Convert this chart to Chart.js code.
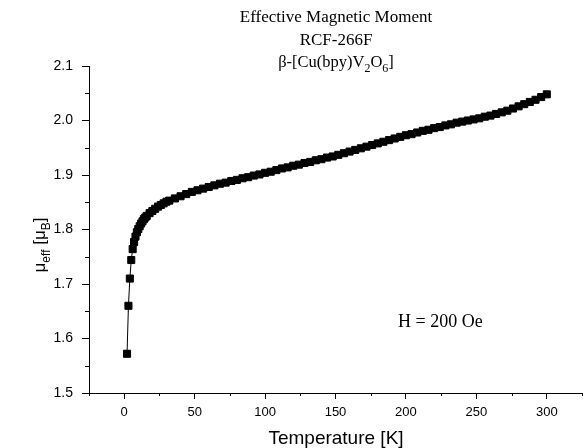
<!DOCTYPE html>
<html><head><meta charset="utf-8">
<script src="https://cdn.jsdelivr.net/npm/chart.js@4/dist/chart.umd.min.js"></script>
<style>html,body{margin:0;padding:0;background:#fff;}canvas{display:block;}</style>
</head><body>
<canvas id="c" width="583" height="448"></canvas>
<script>
const temperatures = [2,3,4,5,6,7,8,9,10,11,12,13,14,15,16,18,20,22,24,26,28,30,32,36,40,44,48,52,56,60,64,68,72,76,80,84,88,92,96,100,104,108,112,116,120,124,128,132,136,140,144,148,152,156,160,164,168,172,176,180,184,188,192,196,200,204,208,212,216,220,224,228,232,236,240,244,248,252,256,260,264,268,272,276,280,284,288,292,296,300];
const muEff = [1.572,1.660,1.710,1.744,1.764,1.777,1.787,1.795,1.801,1.806,1.811,1.815,1.819,1.822,1.825,1.830,1.834,1.838,1.842,1.845,1.848,1.851,1.853,1.857,1.861,1.865,1.869,1.872,1.875,1.878,1.881,1.884,1.886,1.889,1.891,1.894,1.896,1.899,1.901,1.904,1.906,1.909,1.912,1.914,1.917,1.919,1.922,1.924,1.927,1.929,1.932,1.934,1.937,1.940,1.943,1.946,1.949,1.952,1.955,1.958,1.961,1.964,1.967,1.970,1.973,1.975,1.978,1.981,1.983,1.986,1.988,1.991,1.993,1.996,1.998,2.000,2.002,2.004,2.007,2.009,2.012,2.015,2.018,2.022,2.026,2.030,2.034,2.038,2.043,2.048];
const xTicks = [0,50,100,150,200,250,300];
const yTicks = [1.5,1.6,1.7,1.8,1.9,2.0,2.1];
const xMinorTicks = [-25,25,75,125,175,225,275,325];
const yMinorTicks = [1.55,1.65,1.75,1.85,1.95,2.05];
const titleLine1 = "Effective Magnetic Moment";
const titleLine2 = "RCF-266F";
const fieldLabel = "H = 200 Oe";
const xAxisTitle = "Temperature [K]";

const SERIF = '"Liberation Serif", "Times New Roman", serif';
const SANS = '"Liberation Sans", Arial, sans-serif';

function drawRich(ctx, parts, x, y, size, family, align) {
  const subSize = Math.round(size * 0.7);
  let widths = parts.map(p => { ctx.font = (p[1] ? subSize : size) + 'px ' + family; return ctx.measureText(p[0]).width; });
  const total = widths.reduce((a, b) => a + b, 0);
  let cx = align === 'center' ? x - total / 2 : x;
  ctx.textAlign = 'left';
  ctx.textBaseline = 'alphabetic';
  parts.forEach((p, i) => {
    ctx.font = (p[1] ? subSize : size) + 'px ' + family;
    ctx.fillText(p[0], cx, p[1] ? y + size * 0.28 : y);
    cx += widths[i];
  });
}

const annot = {
  id: 'annot',
  afterDraw(chart) {
    const ctx = chart.ctx;
    const xs = chart.scales.x, ys = chart.scales.y;
    const ca = chart.chartArea;
    ctx.save();
    ctx.strokeStyle = '#000';
    ctx.lineWidth = 1;
    ctx.beginPath();
    xMinorTicks.forEach(v => { const px = Math.round(xs.getPixelForValue(v)) + 0.5; ctx.moveTo(px, ca.bottom); ctx.lineTo(px, ca.bottom + 3); });
    yMinorTicks.forEach(v => { const py = Math.round(ys.getPixelForValue(v)) + 0.5; ctx.moveTo(ca.left, py); ctx.lineTo(ca.left - 4, py); });
    ctx.stroke();

    ctx.fillStyle = '#000';
    ctx.textAlign = 'center';
    ctx.textBaseline = 'alphabetic';
    ctx.font = '17px ' + SERIF;
    ctx.fillText(titleLine1, 336, 22);
    ctx.fillText(titleLine2, 336, 45);
    drawRich(ctx, [["\u03B2-[Cu(bpy)V", false], ["2", true], ["O", false], ["6", true], ["]", false]], 336, 67, 16.5, SERIF, 'center');

    ctx.textAlign = 'left';
    ctx.font = '18px ' + SERIF;
    ctx.fillText(fieldLabel, 398, 327);

    ctx.textAlign = 'center';
    ctx.font = '19px ' + SANS;
    ctx.fillText(xAxisTitle, 336, 444);

    ctx.translate(45, 245);
    ctx.rotate(-Math.PI / 2);
    drawRich(ctx, [["\u03BC", false], ["eff", true], [" [\u03BC", false], ["B", true], ["]", false]], 0, 0, 17, SANS, 'center');
    ctx.restore();
  }
};

const points = temperatures.map((t, i) => ({ x: t, y: muEff[i] }));

new Chart(document.getElementById('c'), {
  type: 'scatter',
  data: { datasets: [{
    data: points,
    showLine: true,
    borderColor: '#000',
    borderWidth: 1,
    pointStyle: 'rect',
    pointRadius: 5,
    pointBorderWidth: 1,
    pointBackgroundColor: '#000',
    pointBorderColor: '#000',
    clip: false
  }] },
  options: {
    responsive: false,
    animation: false,
    devicePixelRatio: 1,
    layout: { autoPadding: false, padding: { left: 0, top: 66, right: 1, bottom: 0 } },
    plugins: { legend: { display: false }, tooltip: { enabled: false }, title: { display: false } },
    scales: {
      x: {
        type: 'linear', min: -25, max: 325,
        afterBuildTicks: s => { s.ticks = xTicks.map(v => ({ value: v })); },
        afterFit: s => { s.height = 55; },
        grid: { display: true, drawOnChartArea: false, drawTicks: true, tickLength: 6, color: '#000', tickColor: '#000', tickWidth: 1 },
        border: { display: true, color: '#000', width: 1 },
        ticks: { color: '#000', font: { family: SANS, size: 13 }, padding: 6, maxRotation: 0, autoSkip: false, callback: v => String(v) }
      },
      y: {
        type: 'linear', min: 1.5, max: 2.1,
        afterBuildTicks: s => { s.ticks = yTicks.map(v => ({ value: v })); },
        afterFit: s => { s.width = 89; },
        grid: { display: true, drawOnChartArea: false, drawTicks: true, tickLength: 7, color: '#000', tickColor: '#000', tickWidth: 1 },
        border: { display: true, color: '#000', width: 1 },
        ticks: { color: '#000', font: { family: SANS, size: 14 }, padding: 9, autoSkip: false, callback: v => v.toFixed(1) }
      }
    }
  },
  plugins: [annot]
});
</script>
</body></html>
